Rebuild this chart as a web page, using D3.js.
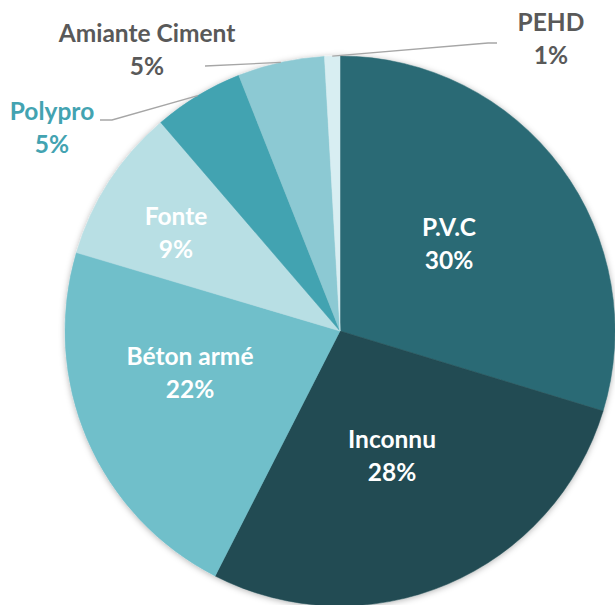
<!DOCTYPE html>
<html>
<head>
<meta charset="utf-8">
<script src="https://cdn.jsdelivr.net/npm/d3@7"></script>
<style>
  body { margin: 0; background: #fff; }
  svg { display: block; font-family: Lato, "Open Sans", sans-serif; }
</style>
</head>
<body>
<div id="chart"></div>
<script>
// slices clockwise from 12 o'clock
const categories = ['P.V.C', 'Inconnu', 'Béton armé', 'Fonte', 'Polypro', 'Amiante Ciment', 'PEHD'];
const shares = [29.7, 27.8, 22.1, 9.1, 5.3, 5.1, 0.9];
const percentLabels = ['30%', '28%', '22%', '9%', '5%', '5%', '1%'];
const sliceColors = ['#2c6b74', '#214b52', '#70bfca', '#b8dfe4', '#43a3b1', '#8cc9d3', '#d8eef2'];

const width = 615, height = 605;
const cx = 340, cy = 331, radius = 275;

// label placement (Excel "best fit" style)
const labelLayout = {
  'P.V.C':          { x: 449, y: 226, fill: '#fff' },
  'Inconnu':        { x: 392, y: 438, fill: '#fff' },
  'Béton armé':     { x: 190, y: 355, fill: '#fff' },
  'Fonte':          { x: 176, y: 215, fill: '#fff' },
  'Polypro':        { x: 52,  y: 110, fill: '#43a3b1', elbow: [[100, 120], [112, 120]] },
  'Amiante Ciment': { x: 147, y: 32,  fill: '#595959', elbow: [[205, 66]] },
  'PEHD':           { x: 551, y: 21,  fill: '#595959', elbow: [[497, 43], [488, 43]] }
};

const data = categories.map((name, i) => ({ name, value: shares[i], pct: percentLabels[i], color: sliceColors[i] }));

const svg = d3.select('#chart').append('svg')
  .attr('width', width)
  .attr('height', height);

const defs = svg.append('defs');
const shadow = defs.append('filter').attr('id', 'shadow')
  .attr('x', '-10%').attr('y', '-10%').attr('width', '120%').attr('height', '120%');
shadow.append('feDropShadow')
  .attr('dx', 0).attr('dy', 1)
  .attr('stdDeviation', 3)
  .attr('flood-color', '#000')
  .attr('flood-opacity', 0.3);

const pie = d3.pie().value(d => d.value).sort(null);
const arc = d3.arc().innerRadius(0).outerRadius(radius);
const edge = d3.arc().innerRadius(radius).outerRadius(radius);

const arcs = pie(data);

const g = svg.append('g').attr('transform', `translate(${cx},${cy})`);

g.append('g')
  .attr('filter', 'url(#shadow)')
  .selectAll('path')
  .data(arcs)
  .join('path')
  .attr('d', arc)
  .attr('fill', d => d.data.color)
  .attr('stroke', d => d.data.color)
  .attr('stroke-width', 0.5);

// leader lines for outside labels
arcs.forEach(a => {
  const lay = labelLayout[a.data.name];
  if (!lay.elbow) return;
  const [ex, ey] = edge.centroid(a);
  const pts = lay.elbow.concat([[ex + cx, ey + cy]]);
  svg.append('path')
    .attr('d', d3.line()(pts))
    .attr('fill', 'none')
    .attr('stroke', '#a6a6a6')
    .attr('stroke-width', 1.3);
});

const labels = svg.append('g')
  .attr('font-weight', 700)
  .attr('font-size', 24.5)
  .attr('text-anchor', 'middle');

arcs.forEach(a => {
  const lay = labelLayout[a.data.name];
  const t = labels.append('text')
    .attr('fill', lay.fill)
    .attr('x', lay.x)
    .attr('y', lay.y)
    .attr('dominant-baseline', 'central');
  t.append('tspan').attr('x', lay.x).text(a.data.name);
  t.append('tspan').attr('x', lay.x).attr('dy', 33).text(a.data.pct);
});
</script>
</body>
</html>
